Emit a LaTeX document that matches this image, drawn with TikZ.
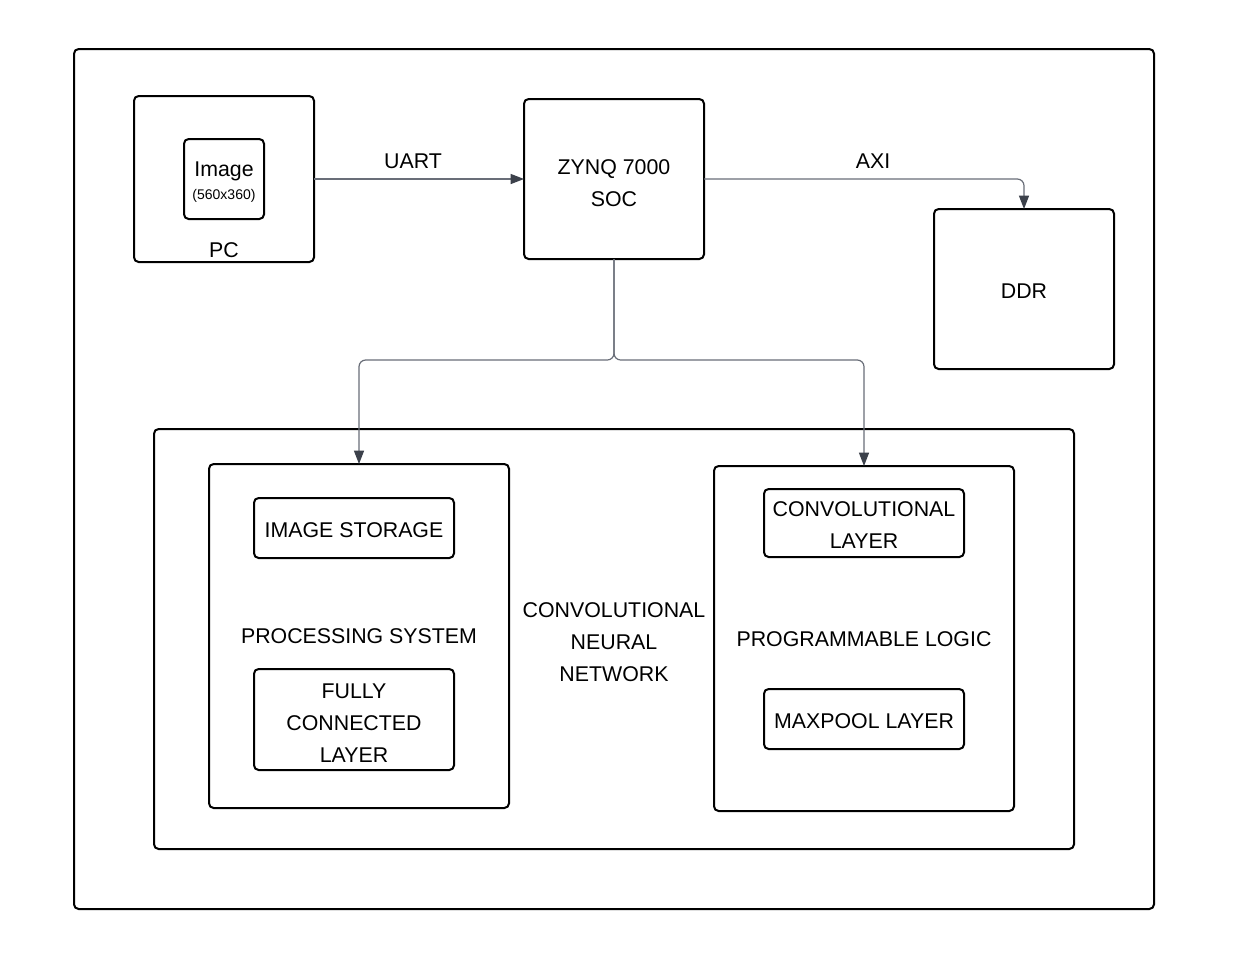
\documentclass[tikz,border=0pt]{standalone}
\usepackage{fontspec}
\setmainfont{Liberation Sans}
\usetikzlibrary{arrows.meta}
\definecolor{linec}{RGB}{105,110,120}
\definecolor{tipc}{RGB}{60,65,75}
\tikzset{
  box/.style={draw=black, line width=1.5pt, rounded corners=3.5pt, inner sep=0pt, outer sep=0pt, fill=white},
  txt/.style={font=\fontsize{16}{24}\selectfont, align=center, inner sep=0pt},
  conn/.style={draw=linec, line width=0.9pt, rounded corners=5pt, -{Triangle[length=10pt,width=7.5pt,color=tipc]}},
}
\begin{document}
\begin{tikzpicture}[x=0.75pt,y=-0.75pt]
\useasboundingbox (0,0) rectangle (1239,965);
% outer frame
\node[box, minimum width=810pt, minimum height=645pt] (outer) at (614,479) {};
% PC
\node[box, minimum width=135pt, minimum height=124.5pt] (pc) at (224,179) {};
\node[box, minimum width=60pt, minimum height=60pt] (img) at (224,179) {};
\node[txt] (imgt) at (224,171) {Image};
\node[txt, font=\fontsize{10.5}{12}\selectfont] (imgs) at (224,196) {(560x360)};
\node[txt] (pct) at (224,250) {PC};
% ZYNQ
\node[box, minimum width=135pt, minimum height=120pt] (zynq) at (614,179) {};
\node[txt] (zynqt) at (614,183) {ZYNQ 7000\\SOC};
% DDR
\node[box, minimum width=135pt, minimum height=120pt] (ddr) at (1024,289) {};
\node[txt] (ddrt) at (1024,291) {DDR};
% CNN
\node[box, minimum width=690pt, minimum height=315pt] (cnn) at (614,639) {};
\node[txt] (cnnt) at (614,642) {CONVOLUTIONAL\\NEURAL\\NETWORK};
% PS
\node[box, minimum width=225pt, minimum height=258pt] (ps) at (359,636) {};
\node[txt] (pst) at (359,636) {PROCESSING SYSTEM};
\node[box, minimum width=150pt, minimum height=45pt] (is) at (354,528) {};
\node[txt] (ist) at (354,530) {IMAGE STORAGE};
\node[box, minimum width=150pt, minimum height=75.75pt] (fc) at (354,719.5) {};
\node[txt] (fct) at (354,723) {FULLY\\CONNECTED\\LAYER};
% PL
\node[box, minimum width=225pt, minimum height=258.75pt] (pl) at (864,638.5) {};
\node[txt] (plt) at (864,639) {PROGRAMMABLE LOGIC};
\node[box, minimum width=150pt, minimum height=51pt] (cl) at (864,523) {};
\node[txt] (clt) at (864,525) {CONVOLUTIONAL\\LAYER};
\node[box, minimum width=150pt, minimum height=45pt] (mp) at (864,719) {};
\node[txt] (mpt) at (864,721) {MAXPOOL LAYER};
% connectors
\draw[conn] (pc.east) -- (zynq.west);
\node[txt] (uart) at (413,161) {UART};
\draw[conn] (zynq.east) -| (ddr.north);
\node[txt] (axi) at (873,161) {AXI};
\coordinate (split) at (614,360);
\draw[conn] (zynq.south) -- (split) -| (ps.north);
\draw[conn] (zynq.south) -- (split) -| (pl.north);
\end{tikzpicture}
\end{document}
